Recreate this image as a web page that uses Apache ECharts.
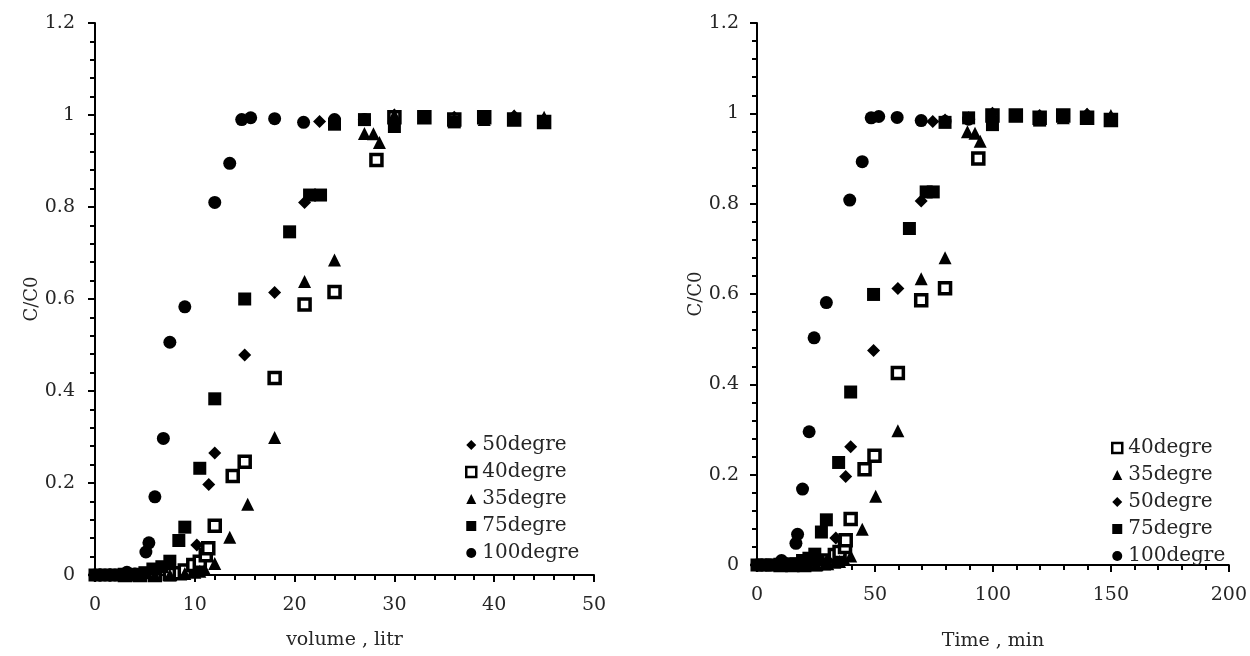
<!DOCTYPE html>
<html>
<head>
<meta charset="utf-8">
<script src="https://cdn.jsdelivr.net/npm/echarts@6/dist/echarts.min.js"></script>
<style>
  html, body { margin: 0; padding: 0; background: #fff; }
  #main { width: 1250px; height: 656px; }
</style>
</head>
<body>
<div id="main"></div>
<script>
// 左图：volume (litr)
var volX50 = [1.5, 3, 4.5, 6, 7.5, 8, 9, 9.6, 10.2, 11.4, 12, 15, 18, 21, 22.5, 24, 27, 30, 33, 36, 39, 42, 45];
var volY50 = [0, 0, 0, 0, 0.002, 0.005, 0.01, 0.02, 0.065, 0.197, 0.265, 0.478, 0.614, 0.81, 0.986, 0.986, 0.99, 1.0, 0.995, 0.995, 0.995, 0.998, 0.99];
var volX40 = [3, 4.5, 6, 7.5, 8.5, 9, 9.85, 10.5, 11.1, 11.35, 12, 13.8, 15, 18, 21, 24, 28.2, 30, 33, 36, 39, 42, 45];
var volY40 = [0, 0, 0, 0.002, 0.004, 0.01, 0.022, 0.029, 0.043, 0.058, 0.107, 0.215, 0.246, 0.428, 0.588, 0.615, 0.902, 0.995, 0.995, 0.99, 0.995, 0.99, 0.985];
var volX35 = [4.5, 6, 7.5, 9, 10, 10.5, 11, 12, 13.5, 15.3, 18, 21, 24, 27, 27.9, 28.5, 30, 33, 36, 39, 42, 45];
var volY35 = [0, 0, 0, 0.003, 0.006, 0.008, 0.012, 0.025, 0.082, 0.154, 0.299, 0.638, 0.685, 0.96, 0.959, 0.94, 1.0, 0.995, 0.99, 0.99, 0.998, 0.995];
var volX75 = [0, 1, 2, 3, 4, 5, 5.8, 6.7, 7.5, 8.4, 9, 10.5, 12, 15, 19.5, 21.5, 22.6, 24, 27, 30, 33, 36, 39, 42, 45];
var volY75 = [0, 0, 0, 0, 0, 0.005, 0.013, 0.018, 0.03, 0.075, 0.104, 0.232, 0.383, 0.6, 0.746, 0.826, 0.826, 0.98, 0.99, 0.975, 0.995, 0.985, 0.995, 0.99, 0.985];
var volX100 = [0, 0.5, 1, 1.5, 2, 3.2, 4, 5.1, 5.4, 6, 6.85, 7.5, 9, 12, 13.5, 14.7, 15.6, 18, 20.9, 24, 27];
var volY100 = [0, 0, 0, 0, 0, 0.006, 0.002, 0.05, 0.07, 0.17, 0.297, 0.506, 0.583, 0.81, 0.895, 0.99, 0.994, 0.992, 0.984, 0.99, 0.99];

// 右图：Time (min)
var timeX40 = [10, 15, 20, 25, 28.3, 30, 33, 35, 37.3, 37.6, 39.7, 45.6, 49.8, 59.7, 69.6, 79.7, 93.8, 99.8, 109.7, 119.8, 129.8, 139.9, 150];
var timeY40 = [0, 0, 0, 0.002, 0.004, 0.01, 0.022, 0.029, 0.04, 0.055, 0.102, 0.212, 0.242, 0.425, 0.586, 0.613, 0.9, 0.995, 0.995, 0.99, 0.995, 0.99, 0.985];
var timeX35 = [15, 20, 25, 30, 33, 35, 37, 39.7, 44.6, 50.3, 59.7, 69.6, 79.7, 89.2, 92.4, 94.6, 99.8, 109.7, 119.8, 129.8, 139.9, 150];
var timeY35 = [0, 0, 0, 0.003, 0.006, 0.008, 0.012, 0.02, 0.079, 0.152, 0.297, 0.634, 0.68, 0.959, 0.956, 0.938, 1.0, 0.995, 0.99, 0.99, 0.998, 0.995];
var timeX50 = [5, 10, 15, 20, 25, 28, 30, 33.4, 37.6, 39.7, 49.4, 59.7, 69.6, 74.5, 79.7, 89.7, 99.8, 109.7, 119.8, 129.8, 139.9, 150];
var timeY50 = [0, 0, 0, 0, 0.002, 0.005, 0.01, 0.06, 0.196, 0.262, 0.475, 0.612, 0.806, 0.982, 0.985, 0.99, 1.0, 0.995, 0.995, 0.995, 0.998, 0.99];
var timeX75 = [0, 3, 6, 10, 13, 16.5, 19.3, 22, 24.5, 27.3, 29.4, 34.6, 39.7, 49.4, 64.6, 71.7, 74.7, 79.7, 89.7, 99.8, 109.7, 119.8, 129.8, 139.9, 150];
var timeY75 = [0, 0, 0, 0, 0, 0.003, 0.01, 0.015, 0.024, 0.073, 0.1, 0.227, 0.383, 0.599, 0.745, 0.826, 0.826, 0.98, 0.99, 0.975, 0.995, 0.985, 0.995, 0.99, 0.985];
var timeX100 = [0, 2, 4, 6, 10.4, 13, 16.5, 17.2, 19.3, 22.1, 24.2, 29.4, 39.3, 44.6, 48.4, 51.6, 59.4, 69.6, 79.7, 89.7];
var timeY100 = [0, 0, 0, 0, 0.01, 0.003, 0.048, 0.068, 0.168, 0.295, 0.503, 0.581, 0.808, 0.893, 0.99, 0.993, 0.991, 0.984, 0.982, 0.987];

var yTicks = [0, 0.2, 0.4, 0.6, 0.8, 1, 1.2];
var legendLeft = ['50degre', '40degre', '35degre', '75degre', '100degre'];
var legendRight = ['40degre', '35degre', '50degre', '75degre', '100degre'];

var FONT = 'DejaVu Serif';
var TXT = '#262626';

function pairs(xs, ys) {
  var out = [];
  for (var i = 0; i < xs.length; i++) out.push([xs[i], ys[i]]);
  return out;
}

// 每个温度的点样式
var marks = {
  '50degre': { symbol: 'diamond', symbolSize: 13, itemStyle: { color: '#000', opacity: 1 } },
  '40degre': { symbol: 'rect', symbolSize: 11, itemStyle: { color: '#fff', borderColor: '#000', borderWidth: 3.5, opacity: 1 } },
  '35degre': { symbol: 'triangle', symbolSize: 13, itemStyle: { color: '#000', opacity: 1 } },
  '75degre': { symbol: 'rect', symbolSize: 13, itemStyle: { color: '#000', opacity: 1 } },
  '100degre': { symbol: 'circle', symbolSize: 13, itemStyle: { color: '#000', opacity: 1 } }
};

function scatter(name, idx, xs, ys) {
  var m = marks[name];
  return {
    name: name,
    type: 'scatter',
    xAxisIndex: idx,
    yAxisIndex: idx,
    symbol: m.symbol,
    symbolSize: m.symbolSize,
    itemStyle: m.itemStyle,
    clip: false,
    data: pairs(xs, ys)
  };
}

function xAxisOf(idx, max, interval, name, gap) {
  return {
    type: 'value', gridIndex: idx, min: 0, max: max, interval: interval,
    name: name, nameLocation: 'middle', nameGap: gap,
    nameTextStyle: { fontFamily: FONT, fontSize: 19, color: TXT },
    axisLine: { show: true, onZero: false, lineStyle: { color: '#000', width: 2 } },
    axisTick: { show: true, length: 7, lineStyle: { color: '#000', width: 2 } },
    minorTick: { show: true, splitNumber: 5, length: 5, lineStyle: { color: '#000', width: 2 } },
    axisLabel: { fontFamily: FONT, fontSize: 19, color: TXT, margin: 21 },
    splitLine: { show: false }
  };
}

function yAxisOf(idx, gap, margin) {
  return {
    type: 'value', gridIndex: idx, min: 0, max: 1.2, interval: 0.2,
    name: 'C/C0', nameLocation: 'middle', nameGap: gap,
    nameTextStyle: { fontFamily: FONT, fontSize: 18, color: TXT },
    axisLine: { show: true, onZero: false, lineStyle: { color: '#000', width: 2 } },
    axisTick: { show: true, length: 7, lineStyle: { color: '#000', width: 2 } },
    minorTick: { show: true, splitNumber: 5, length: 5, lineStyle: { color: '#000', width: 2 } },
    axisLabel: {
      fontFamily: FONT, fontSize: 19, color: TXT, margin: margin,
      formatter: function (v) { return yTicks.indexOf(Math.round(v * 10) / 10) >= 0 ? String(Math.round(v * 10) / 10) : ''; }
    },
    splitLine: { show: false }
  };
}

// 图例：空心方块的边框加粗，图标略小
function legendOf(names, left, top) {
  var items = names.map(function (n) {
    if (n === '40degre') {
      return { name: n, itemStyle: { color: '#fff', borderColor: '#000', borderWidth: 2.5 } };
    }
    return { name: n };
  });
  return {
    orient: 'vertical', left: left, top: top,
    data: items, itemWidth: 10, itemHeight: 10, itemGap: 7,
    selectedMode: false,
    textStyle: { fontFamily: FONT, fontSize: 20, color: TXT, lineHeight: 20, padding: [0, 0, 0, 1] }
  };
}

var myChart = echarts.init(document.getElementById('main'));

var option = {
  animation: false,
  backgroundColor: '#fff',
  grid: [
    { left: 95, right: 656, top: 23, bottom: 81 },
    { left: 757, right: 19, top: 23, bottom: 88 }
  ],
  xAxis: [
    xAxisOf(0, 50, 10, 'volume , litr', 56),
    xAxisOf(1, 200, 50, 'Time , min', 67)
  ],
  yAxis: [
    yAxisOf(0, 52, 20),
    yAxisOf(1, 38, 18)
  ],
  legend: [
    legendOf(legendLeft, 460, 430),
    legendOf(legendRight, 1106, 433)
  ],
  series: [
    scatter('50degre', 0, volX50, volY50),
    scatter('40degre', 0, volX40, volY40),
    scatter('35degre', 0, volX35, volY35),
    scatter('75degre', 0, volX75, volY75),
    scatter('100degre', 0, volX100, volY100),
    scatter('40degre', 1, timeX40, timeY40),
    scatter('35degre', 1, timeX35, timeY35),
    scatter('50degre', 1, timeX50, timeY50),
    scatter('75degre', 1, timeX75, timeY75),
    scatter('100degre', 1, timeX100, timeY100)
  ]
};

myChart.setOption(option);
</script>
</body>
</html>
